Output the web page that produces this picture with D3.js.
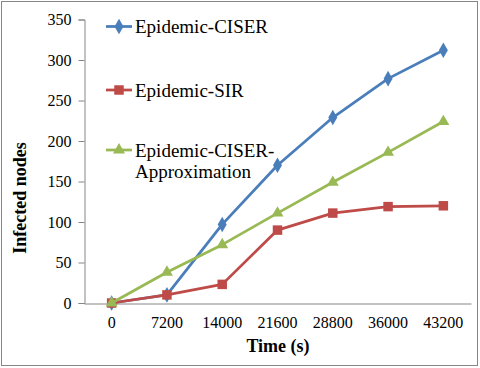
<!DOCTYPE html>
<html>
<head>
<meta charset="utf-8">
<script src="https://cdn.jsdelivr.net/npm/d3@7"></script>
</head>
<body style="margin:0;background:#fff;font-family:'Times New Roman',serif">
<svg id="chart" width="480" height="368" font-family="Times New Roman, Liberation Serif, serif"></svg>
<script>
// time steps on the x axis (categorical)
var times = ["0", "7200", "14000", "21600", "28800", "36000", "43200"];

// infected nodes per series
var ciser = [0, 10, 97, 170, 229, 277, 312];
var sir = [0, 10, 23, 90, 111, 119, 120];
var ciserApprox = [0, 38, 72, 111, 149, 186, 224];

var yTicks = [0, 50, 100, 150, 200, 250, 300, 350];

var series = [
    { name: ["Epidemic-CISER"], values: ciser, color: "#4A7EBB", symbol: d3.symbolDiamond },
    { name: ["Epidemic-SIR"], values: sir, color: "#BE4B48", symbol: d3.symbolSquare },
    { name: ["Epidemic-CISER-", "Approximation"], values: ciserApprox, color: "#98B954", symbol: d3.symbolTriangle }
];

var FONT = "Times New Roman, Liberation Serif, serif";
var svg = d3.select("#chart");
var axisColor = "#868686";

// outer frame
svg.append("rect")
    .attr("x", 1.5).attr("y", 1.5)
    .attr("width", 476).attr("height", 364)
    .attr("fill", "none")
    .attr("stroke", axisColor)
    .attr("stroke-width", 1);

var x = d3.scaleBand().domain(times).range([84, 471]);
var y = d3.scaleLinear().domain([0, 350]).range([303, 19.5]);

// y axis
var yAxis = svg.append("g")
    .attr("transform", "translate(84.5,0)")
    .call(d3.axisLeft(y).tickValues(yTicks).tickSize(6).tickPadding(7))
    .attr("font-family", FONT)
    .attr("font-size", 16);
yAxis.select(".domain").attr("stroke", axisColor);
yAxis.selectAll(".tick line").attr("stroke", axisColor);

// x axis, no tick marks
var xAxis = svg.append("g")
    .attr("transform", "translate(0,303.5)")
    .call(d3.axisBottom(x).tickSize(0).tickPadding(13).tickSizeOuter(0))
    .attr("font-family", FONT)
    .attr("font-size", 16);
xAxis.select(".domain").attr("stroke", axisColor);

// axis titles
svg.append("text")
    .attr("x", 278).attr("y", 352)
    .attr("text-anchor", "middle")
    .attr("font-family", FONT)
    .attr("font-size", 18).attr("font-weight", "bold")
    .text("Time (s)");

svg.append("text")
    .attr("transform", "translate(26,198) rotate(-90)")
    .attr("text-anchor", "middle")
    .attr("font-family", FONT)
    .attr("font-size", 18).attr("font-weight", "bold")
    .text("Infected nodes");

var line = d3.line()
    .x(function(d, i) { return x(times[i]) + x.bandwidth() / 2; })
    .y(function(d) { return y(d); });

function symbolSize(sym) {
    if (sym === d3.symbolTriangle) return 62;
    if (sym === d3.symbolSquare) return 90;
    return 70;
}

series.forEach(function(s) {
    svg.append("path")
        .datum(s.values)
        .attr("d", line)
        .attr("fill", "none")
        .attr("stroke", s.color)
        .attr("stroke-width", 2.75)
        .attr("stroke-linejoin", "round");

    svg.selectAll(null)
        .data(s.values)
        .enter()
        .append("path")
        .attr("d", d3.symbol().type(s.symbol).size(symbolSize(s.symbol)))
        .attr("transform", function(d, i) {
            return "translate(" + (x(times[i]) + x.bandwidth() / 2) + "," + y(d) + ")";
        })
        .attr("fill", s.color);
});

// legend
var legendY = [26.5, 90, 150];
series.forEach(function(s, i) {
    var g = svg.append("g").attr("transform", "translate(0," + legendY[i] + ")");
    g.append("line")
        .attr("x1", 106).attr("x2", 132)
        .attr("stroke", s.color).attr("stroke-width", 2.75);
    g.append("path")
        .attr("d", d3.symbol().type(s.symbol).size(symbolSize(s.symbol)))
        .attr("transform", "translate(119,0)")
        .attr("fill", s.color);
    s.name.forEach(function(t, j) {
        g.append("text")
            .attr("x", 135).attr("y", 6.5 + j * 21)
            .attr("font-family", FONT)
            .attr("font-size", 19)
            .text(t);
    });
});
</script>
</body>
</html>
